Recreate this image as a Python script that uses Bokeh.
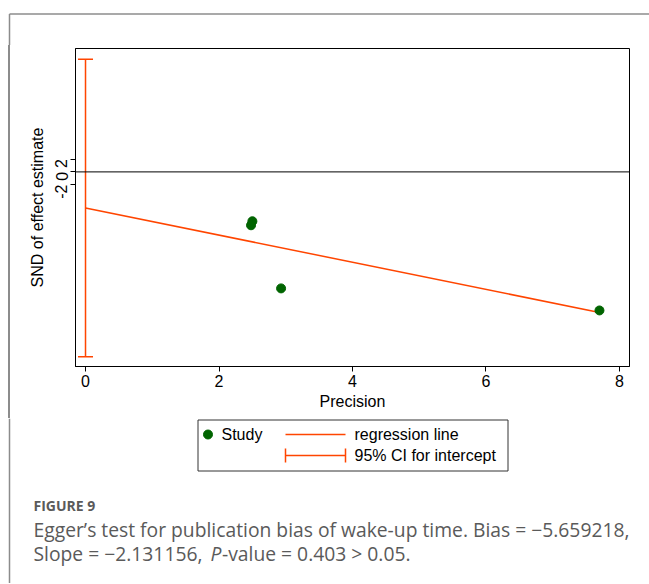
import math
from bokeh.plotting import figure
from bokeh.layouts import column, row
from bokeh.models import (ColumnDataSource, Whisker, TeeHead, Span, FixedTicker, Range1d, Div)
from bokeh.core.properties import value
from bokeh.embed import file_html
from bokeh.resources import INLINE

# ---- data ----
precision = [2.50, 2.48, 2.93, 7.70]
snd = [-7.75, -8.38, -18.29, -21.75]
bias = -5.659218
slope = -2.131156
ci_low = -29.0
ci_high = 17.7
x_ticks = [0, 2, 4, 6, 8]
y_ticks = [-2, 0, 2]
y_tick_labels = ["-2", "0", "2"]
legend_labels = ["Study", "regression line", "95% CI for intercept"]
caption_head = "FIGURE 9"
caption_line1 = "Egger’s test for publication bias of wake-up time. Bias = −5.659218,"
caption_line2a = "Slope = −2.131156, "
caption_line2b = "P"
caption_line2c = "-value = 0.403 > 0.05."

FONT = "Liberation Sans"
CAP_FONT = "Open Sans"
ORANGE = "#FF4500"
GREEN = "#006400"
BOX = "#8c8c8c"
CAP_COLOR = "#5a5a5a"

TOTAL_W = 649
TOP_H = 45
LEFT_W = 20
MAIN_W, MAIN_H = 629, 373
BOT_H = 165


def strip(w, h):
    f = figure(width=w, height=h, x_range=Range1d(0, w), y_range=Range1d(h, 0),
               x_axis_type=None, y_axis_type=None,
               min_border=0, min_border_left=0, min_border_right=0,
               min_border_top=0, min_border_bottom=0,
               output_backend="svg", toolbar_location=None)
    f.outline_line_color = None
    f.background_fill_color = "white"
    f.border_fill_color = "white"
    f.grid.visible = False
    return f


# ---- top strip: outer panel border ----
top = strip(TOTAL_W, TOP_H)
top.segment(x0=[9, 9], y0=[13.5, 13.5], x1=[TOTAL_W, 9], y1=[13.5, TOP_H],
            line_color=BOX, line_width=1.5)

# ---- left strip: continuation of the panel border ----
left = Div(width=LEFT_W, height=MAIN_H, margin=(0, 0, 0, 0), text="",
           styles={"background": ("linear-gradient(to right, #ffffff 8.25px, %s 8.25px, "
                                  "%s 9.75px, #ffffff 9.75px)" % (BOX, BOX))})

# ---- main plot ----
p = figure(width=MAIN_W, height=MAIN_H,
           min_border_left=55, min_border_right=20, min_border_top=3, min_border_bottom=52,
           x_range=Range1d(-0.15, 8.15), y_range=Range1d(-30.55, 19.37),
           output_backend="svg", toolbar_location=None)
p.background_fill_color = "white"
p.border_fill_color = "white"
p.outline_line_color = "black"
p.outline_line_width = 1
p.grid.visible = False

p.xaxis.ticker = FixedTicker(ticks=x_ticks)
p.yaxis.ticker = FixedTicker(ticks=y_ticks)
p.yaxis.major_label_overrides = dict(zip(y_ticks, y_tick_labels))
p.xaxis.axis_label = "Precision"
p.yaxis.axis_label = "SND of effect estimate"
for ax in (p.xaxis[0], p.yaxis[0]):
    ax.axis_label_text_font = FONT
    ax.axis_label_text_font_size = "16px"
    ax.axis_label_text_font_style = "normal"
    ax.axis_label_text_color = "black"
    ax.major_label_text_font = FONT
    ax.major_label_text_font_size = "16px"
    ax.major_label_text_color = "black"
    ax.major_tick_out = 5
    ax.major_tick_in = 0
    ax.minor_tick_out = 0
    ax.minor_tick_in = 0
    ax.axis_line_color = "black"
    ax.major_tick_line_color = "black"
    ax.major_label_standoff = 3
    ax.axis_label_standoff = 3
p.yaxis.major_label_orientation = math.pi / 2
p.yaxis.major_label_standoff = 9
p.yaxis.axis_label_standoff = 1

p.add_layout(Span(location=0, dimension="width", line_color="black", line_width=1))

ci_src = ColumnDataSource(dict(base=[0], lower=[ci_low], upper=[ci_high]))
p.add_layout(Whisker(source=ci_src, base="base", lower="lower", upper="upper",
                     dimension="height", line_color=ORANGE, line_width=1.5,
                     upper_head=TeeHead(size=15, line_color=ORANGE, line_width=1.5),
                     lower_head=TeeHead(size=15, line_color=ORANGE, line_width=1.5)))

xr = [0, max(precision)]
p.line(xr, [bias + slope * v for v in xr], line_color=ORANGE, line_width=1.5)
p.scatter(precision, snd, size=9, fill_color=GREEN, line_color=GREEN)

# ---- bottom strip: legend + caption ----
b = strip(TOTAL_W, BOT_H)
b.segment(x0=[9], y0=[0], x1=[9], y1=[BOT_H], line_color=BOX, line_width=1.5)
b.quad(left=[197.5], right=[507.5], top=[1.5], bottom=[52.5],
       fill_color="white", line_color="#333333", line_width=1)
b.scatter(x=[207.5], y=[16], size=9, fill_color=GREEN, line_color=GREEN)
b.segment(x0=[285, 285, 285, 345], y0=[16, 37, 30, 30], x1=[345, 345, 285, 345],
          y1=[16, 37, 44, 44], line_color=ORANGE, line_width=1.5)
b.text(x=[221, 354, 354], y=[16, 16, 37], text=legend_labels,
       text_font=value(FONT), text_font_size="16px", text_color="black",
       text_baseline="middle", text_align="left")

b.text(x=[33], y=[87], text=[caption_head], text_font=value(CAP_FONT),
       text_font_size="14px", text_font_style="bold", text_color=CAP_COLOR,
       text_baseline="middle")
b.text(x=[33, 33], y=[111, 135], text=[caption_line1, caption_line2a],
       text_font=value(CAP_FONT), text_font_size="19.3px", text_color=CAP_COLOR,
       text_baseline="middle")
b.text(x=[210], y=[135], text=[caption_line2b], text_font=value(CAP_FONT),
       text_font_size="19.3px", text_font_style="italic", text_color=CAP_COLOR,
       text_baseline="middle")
b.text(x=[221.5], y=[135], text=[caption_line2c], text_font=value(CAP_FONT),
       text_font_size="19.3px", text_color=CAP_COLOR, text_baseline="middle")

layout = column(top, row(left, p, spacing=0), b, spacing=0)
open("out.html", "w").write(file_html(layout, INLINE))
